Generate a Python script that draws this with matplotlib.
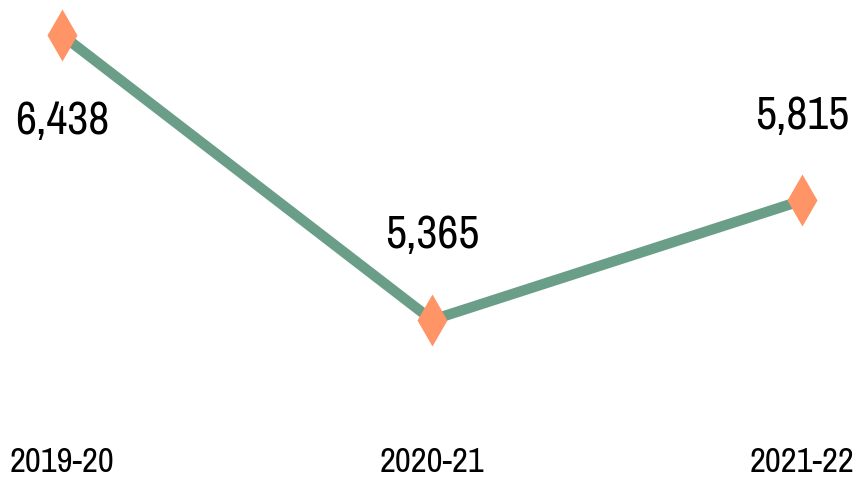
import matplotlib
matplotlib.use("Agg")
import matplotlib.pyplot as plt

years = ["2019-20", "2020-21", "2021-22"]
values = [6438, 5365, 5815]
label_offsets = [-62, 61, 61]  # points, negative = below the marker

plt.rcParams["font.family"] = ["Archivo Narrow", "Liberation Sans", "DejaVu Sans"]

fig = plt.figure(figsize=(8.56, 4.82), dpi=100)
ax = fig.add_axes([0, 42 / 482, 1, 440 / 482])

x = list(range(len(years)))
ax.plot(x, values, color="#6A9E88", linewidth=7.5, solid_capstyle="butt", zorder=1)
ax.plot(x, values, linestyle="none", marker="d", markersize=26,
        markerfacecolor="#FF9466", markeredgecolor="none", zorder=2)

for xi, v, off in zip(x, values, label_offsets):
    ax.annotate(f"{v:,}", (xi, v), xytext=(0, off), textcoords="offset points",
                ha="center", va="center", fontsize=33, color="black")

ax.set_xlim(-62 / 370, 794 / 370)
ax.set_ylim(4913, 6570)
ax.set_xticks(x)
ax.set_xticklabels(years, fontsize=25)
ax.tick_params(axis="x", length=0, pad=4)
ax.set_yticks([])
for s in ax.spines.values():
    s.set_visible(False)

fig.savefig("out.png", dpi=100)
